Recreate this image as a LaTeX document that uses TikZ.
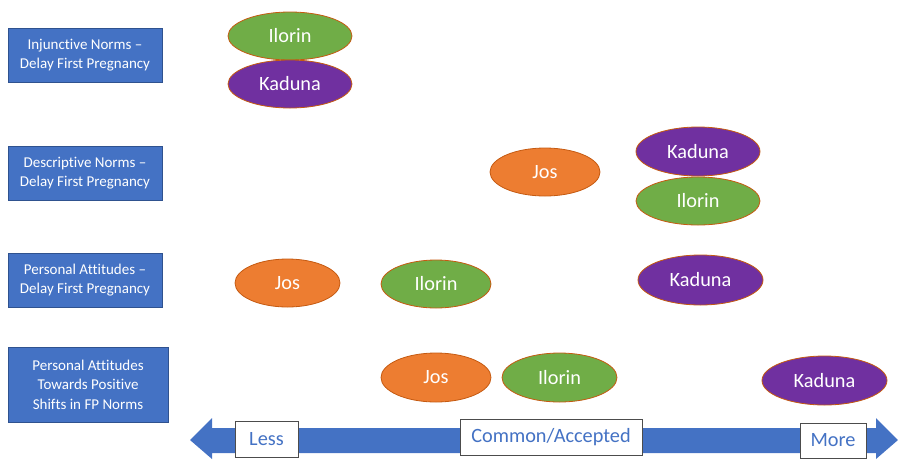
\documentclass[tikz,border=0pt]{standalone}
\usepackage{fontspec}
\setmainfont{Carlito}[Ligatures={NoCommon,NoRare}]
\usetikzlibrary{shapes.geometric,shapes.arrows}
\definecolor{cblue}{HTML}{4472C4}
\definecolor{cbluedark}{HTML}{2F528F}
\definecolor{cgreen}{HTML}{70AD47}
\definecolor{cpurple}{HTML}{7030A0}
\definecolor{corange}{HTML}{ED7D31}
\definecolor{cedge}{HTML}{C55A11}
\tikzset{
  x=1pt,y=-1pt,
  catbox/.style={draw=cbluedark,line width=0.8pt,fill=cblue,text=white,font=\fontsize{15}{19.5}\selectfont,align=center,inner sep=0pt},
  city/.style={ellipse,draw=cedge,line width=0.8pt,text=white,font=\fontsize{20.3}{22}\selectfont,inner sep=0pt},
  scalelbl/.style={draw=black!70,line width=0.7pt,fill=white,text=cblue,font=\fontsize{20.3}{22}\selectfont,inner sep=0pt}
}
\begin{document}
\begin{tikzpicture}
\useasboundingbox (0,0) rectangle (898,459);
% category boxes
\node[catbox,minimum width=154pt,minimum height=54pt] (c1) at (85,55) {Injunctive Norms –\\Delay First Pregnancy};
\node[catbox,minimum width=154pt,minimum height=54pt] (c2) at (85,173) {Descriptive Norms –\\Delay First Pregnancy};
\node[catbox,minimum width=154pt,minimum height=54pt] (c3) at (85,280) {Personal Attitudes –\\Delay First Pregnancy};
\node[catbox,minimum width=160pt,minimum height=75pt] (c4) at (88,384.5) {Personal Attitudes\\Towards Positive\\Shifts in FP Norms};
% ellipses
\node[city,fill=cgreen,minimum width=124pt,minimum height=48pt] (r1i) at (290,36) {Ilorin};
\node[city,fill=cpurple,minimum width=124pt,minimum height=48pt] (r1k) at (290,84) {Kaduna};
\node[city,fill=corange,minimum width=110pt,minimum height=48pt] (r2j) at (545,172) {Jos};
\node[city,fill=cpurple,minimum width=124pt,minimum height=49pt] (r2k) at (698,151.5) {Kaduna};
\node[city,fill=cgreen,minimum width=124pt,minimum height=48pt] (r2i) at (698,201) {Ilorin};
\node[city,fill=corange,minimum width=105pt,minimum height=48pt] (r3j) at (287.5,283) {Jos};
\node[city,fill=cgreen,minimum width=110pt,minimum height=48pt] (r3i) at (436,284) {Ilorin};
\node[city,fill=cpurple,minimum width=125pt,minimum height=50pt] (r3k) at (700.5,280) {Kaduna};
\node[city,fill=corange,minimum width=110pt,minimum height=49pt] (r4j) at (436,377.5) {Jos};
\node[city,fill=cgreen,minimum width=115pt,minimum height=49pt] (r4i) at (559.5,377.5) {Ilorin};
\node[city,fill=cpurple,minimum width=125pt,minimum height=49pt] (r4k) at (824.5,380.5) {Kaduna};
% double arrow
\fill[cblue] (190,440) -- (212,418) -- (212,428) -- (876,428) -- (876,418) -- (898,440) -- (876,459) -- (876,453) -- (212,453) -- (212,459) -- cycle;
% scale labels
\node[scalelbl,minimum width=63pt,minimum height=36pt] (less) at (266.5,439) {Less};
\node[scalelbl,minimum width=182pt,minimum height=36pt] (common) at (551,437) {Common/Accepted};
\node[scalelbl,minimum width=66pt,minimum height=35pt] (more) at (833,440.5) {More};
\end{tikzpicture}
\end{document}
